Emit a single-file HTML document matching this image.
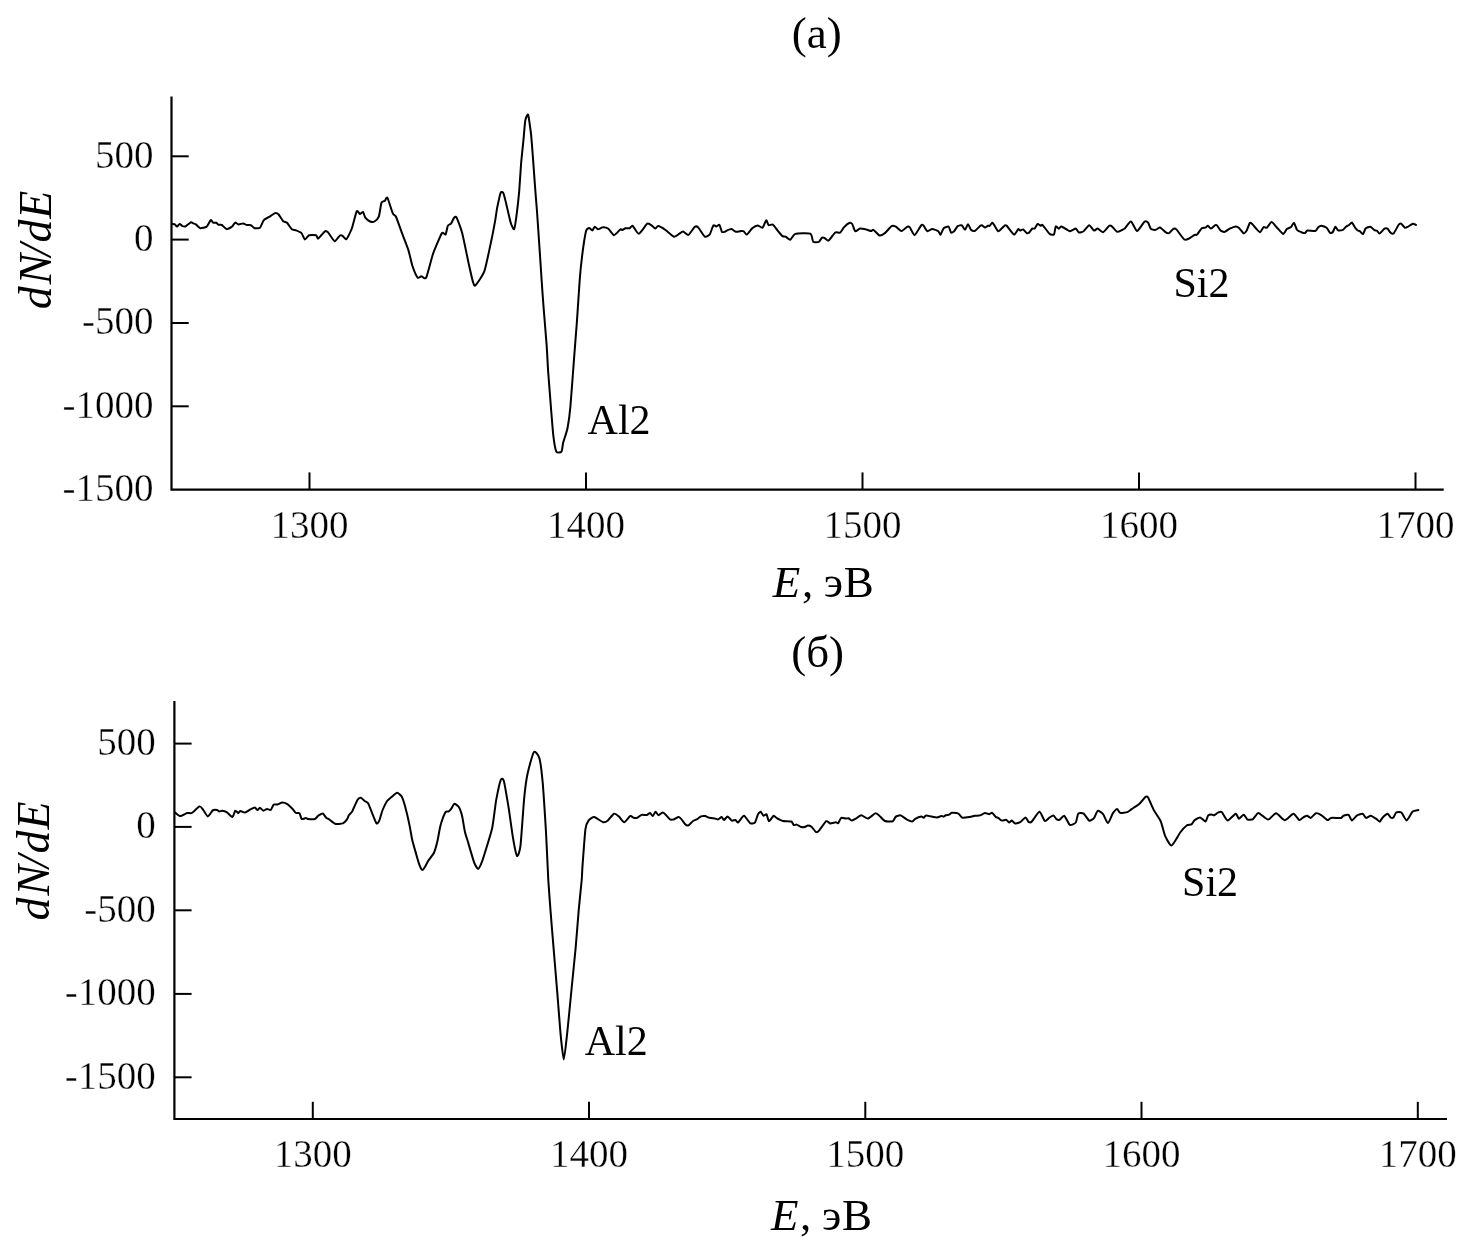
<!DOCTYPE html>
<html><head><meta charset="utf-8"><title>dN/dE spectra</title>
<style>
html,body{margin:0;padding:0;background:#fff;}
svg{display:block;will-change:transform;}
text{font-family:"Liberation Serif","Times New Roman",serif;fill:#000;}
.tk{stroke:#fff;stroke-width:0.35px;}
</style></head>
<body>
<svg width="1484" height="1250" viewBox="0 0 1484 1250">
<rect width="1484" height="1250" fill="#fff"/>
<path d="M171.5,96.4 L171.5,489.6 L1443.7,489.6" fill="none" stroke="#000" stroke-width="2.2" stroke-linejoin="miter" stroke-linecap="butt"/>
<line x1="171.5" y1="156.3" x2="188.7" y2="156.3" stroke="#000" stroke-width="2.0"/>
<line x1="171.5" y1="239.6" x2="188.7" y2="239.6" stroke="#000" stroke-width="2.0"/>
<line x1="171.5" y1="323" x2="188.7" y2="323" stroke="#000" stroke-width="2.0"/>
<line x1="171.5" y1="406.3" x2="188.7" y2="406.3" stroke="#000" stroke-width="2.0"/>
<line x1="309.5" y1="489.6" x2="309.5" y2="472.40000000000003" stroke="#000" stroke-width="2.0"/>
<line x1="586" y1="489.6" x2="586" y2="472.40000000000003" stroke="#000" stroke-width="2.0"/>
<line x1="862.5" y1="489.6" x2="862.5" y2="472.40000000000003" stroke="#000" stroke-width="2.0"/>
<line x1="1139" y1="489.6" x2="1139" y2="472.40000000000003" stroke="#000" stroke-width="2.0"/>
<line x1="1415.5" y1="489.6" x2="1415.5" y2="472.40000000000003" stroke="#000" stroke-width="2.0"/>
<text x="153.5" y="167.7" text-anchor="end" font-size="39" class="tk">500</text>
<text x="153.5" y="251.0" text-anchor="end" font-size="39" class="tk">0</text>
<text x="153.5" y="334.4" text-anchor="end" font-size="39" class="tk">-500</text>
<text x="153.5" y="417.7" text-anchor="end" font-size="39" class="tk">-1000</text>
<text x="153.5" y="501.0" text-anchor="end" font-size="39" class="tk">-1500</text>
<text x="309.5" y="538.4" text-anchor="middle" font-size="39" class="tk">1300</text>
<text x="586" y="538.4" text-anchor="middle" font-size="39" class="tk">1400</text>
<text x="862.5" y="538.4" text-anchor="middle" font-size="39" class="tk">1500</text>
<text x="1139" y="538.4" text-anchor="middle" font-size="39" class="tk">1600</text>
<text x="1415.5" y="538.4" text-anchor="middle" font-size="39" class="tk">1700</text>
<text x="816.8" y="48.2" text-anchor="middle" font-size="45">(a)</text>
<text y="596.9" font-size="45"><tspan x="772.8" font-style="italic">E</tspan><tspan x="801.9">,</tspan><tspan x="823.7">э</tspan><tspan x="843.8">В</tspan></text>
<text transform="translate(50.5,0) rotate(-90)" y="0" font-size="46" font-style="italic"><tspan x="-309.2">d</tspan><tspan x="-284.4">N</tspan><tspan x="-256.6">/</tspan><tspan x="-242.4">d</tspan><tspan x="-218.7">E</tspan></text>
<text x="587.6" y="434" font-size="42">Al2</text>
<text x="1173.4" y="296.7" font-size="42">Si2</text>
<path d="M172.2,223.9 C172.5,224.0 174.4,224.1 174.9,224.4 C175.4,224.7 176.5,226.7 177.0,226.6 C177.5,226.5 179.2,224.0 179.7,223.9 C180.2,223.8 181.8,225.9 182.4,226.1 C183.0,226.3 184.7,226.7 185.6,226.3 C186.5,225.9 190.2,222.6 191.0,222.3 C191.8,222.0 192.7,223.2 193.2,223.4 C193.7,223.6 195.2,223.9 195.9,224.4 C196.6,224.9 199.1,228.0 200.2,228.2 C201.3,228.4 205.6,227.4 206.7,226.6 C207.8,225.8 210.2,220.5 210.8,220.1 C211.4,219.7 212.5,222.3 213.1,222.6 C213.7,222.9 215.9,222.6 216.4,222.8 C216.9,223.0 218.0,224.6 218.5,224.8 C219.0,225.0 221.0,224.6 221.8,225.0 C222.6,225.4 225.6,228.9 226.6,229.1 C227.6,229.3 231.1,227.2 232.0,226.6 C232.9,225.9 234.5,222.8 235.2,222.6 C235.8,222.4 237.7,224.3 238.5,224.4 C239.3,224.5 242.5,223.3 243.3,223.4 C244.1,223.5 245.8,224.8 246.6,225.0 C247.4,225.2 250.1,224.9 250.9,225.2 C251.7,225.5 253.7,227.9 254.6,228.2 C255.5,228.4 259.1,228.5 260.0,227.7 C260.9,226.9 262.9,221.2 263.8,220.1 C264.7,219.0 268.1,217.6 269.2,216.9 C270.3,216.2 274.2,213.4 275.1,213.1 C276.0,212.8 277.6,213.4 278.4,214.2 C279.2,215.0 282.3,220.3 283.2,221.2 C284.1,222.1 286.1,222.0 287.0,222.8 C287.9,223.6 290.9,228.5 291.8,229.3 C292.7,230.1 295.1,230.0 296.1,230.4 C297.1,230.8 300.6,232.2 301.5,233.1 C302.4,234.0 304.0,239.3 304.8,239.5 C305.6,239.7 308.0,235.6 309.1,235.2 C310.2,234.8 315.2,234.9 316.1,235.2 C317.0,235.5 317.3,238.9 318.2,238.5 C319.1,238.1 323.9,232.2 324.7,231.5 C325.5,230.8 325.6,231.1 325.9,231.2 C326.2,231.3 327.2,231.3 328.1,232.3 C329.0,233.3 333.4,240.9 334.6,241.2 C335.8,241.5 339.1,236.0 339.9,235.5 C340.7,235.0 342.0,235.4 342.6,235.8 C343.2,236.2 345.5,239.8 346.4,239.1 C347.3,238.4 350.8,231.3 351.8,228.5 C352.8,225.7 355.9,212.8 356.7,211.3 C357.5,209.9 359.3,213.9 359.9,214.0 C360.5,214.1 362.6,211.6 363.1,212.0 C363.6,212.4 364.6,216.8 365.3,217.7 C366.0,218.6 369.2,221.1 370.1,221.5 C371.0,221.9 373.5,222.0 374.4,221.5 C375.3,221.0 378.1,218.6 378.8,216.7 C379.5,214.8 380.9,204.2 381.5,202.6 C382.1,201.0 384.1,201.5 384.7,201.0 C385.3,200.5 386.6,196.6 387.4,197.8 C388.2,199.0 391.9,211.5 392.8,213.4 C393.7,215.3 395.1,214.8 396.0,216.7 C396.9,218.6 400.7,229.5 401.9,232.8 C403.1,236.1 407.4,246.9 408.4,250.1 C409.4,253.3 411.3,262.4 412.2,265.2 C413.1,267.9 416.7,276.5 417.6,277.6 C418.5,278.7 420.4,276.2 421.3,276.2 C422.2,276.2 425.0,279.9 426.2,277.6 C427.4,275.3 431.6,257.7 433.2,253.3 C434.8,248.9 440.6,235.3 441.8,233.4 C443.0,231.5 445.0,235.2 445.6,234.4 C446.2,233.6 447.3,226.9 447.8,225.8 C448.3,224.7 450.4,224.4 451.0,223.7 C451.6,222.9 453.2,219.0 453.7,218.3 C454.2,217.7 455.5,215.7 456.4,217.2 C457.3,218.7 461.1,228.7 462.3,233.4 C463.5,238.1 467.7,259.2 468.8,264.1 C469.9,269.0 472.4,280.3 473.1,282.4 C473.8,284.5 474.4,286.4 475.5,285.3 C476.6,284.2 482.8,275.8 484.4,271.2 C486.0,266.6 490.5,244.2 491.6,239.2 C492.7,234.2 494.4,224.8 495.0,221.6 C495.6,218.4 496.6,210.5 497.2,207.6 C497.8,204.7 500.0,194.2 500.6,192.8 C501.2,191.4 502.8,192.1 503.4,193.2 C504.0,194.3 505.5,200.8 506.2,203.7 C506.9,206.6 509.9,220.1 510.7,222.7 C511.5,225.2 513.5,229.8 514.1,229.2 C514.7,228.6 515.8,220.8 516.3,217.1 C516.8,213.4 518.6,198.0 519.1,192.4 C519.6,186.8 520.8,166.5 521.3,161.1 C521.8,155.7 523.2,142.7 523.6,138.6 C524.0,134.5 524.8,122.9 525.3,120.5 C525.8,118.1 527.5,113.5 528.1,114.8 C528.7,116.0 530.4,129.2 530.9,133.0 C531.4,136.8 532.2,148.1 532.6,153.2 C533.0,158.2 534.4,177.7 534.8,183.5 C535.2,189.3 536.5,205.3 537.0,211.5 C537.5,217.7 538.8,238.2 539.3,245.1 C539.8,251.9 541.2,273.6 541.6,280.0 C542.0,286.4 543.2,302.3 543.7,308.8 C544.2,315.3 546.1,338.2 546.6,344.7 C547.1,351.2 547.8,367.0 548.3,373.5 C548.8,380.0 550.6,403.3 551.1,409.5 C551.6,415.7 552.8,431.2 553.3,435.4 C553.8,439.6 555.5,450.0 556.3,451.6 C557.1,453.2 560.8,452.5 561.5,451.6 C562.2,450.7 562.6,444.9 563.2,442.6 C563.8,440.3 566.8,431.8 567.5,428.2 C568.2,424.6 569.8,413.5 570.4,406.6 C571.0,399.7 573.4,367.4 574.0,359.1 C574.6,350.8 576.2,331.1 576.8,323.2 C577.4,315.3 579.2,286.6 579.7,280.0 C580.2,273.4 581.4,261.7 582.0,256.8 C582.6,251.9 585.3,234.1 586.0,231.2 C586.7,228.3 588.6,228.1 589.2,228.0 C589.8,227.9 591.8,230.5 592.4,230.4 C593.0,230.3 594.2,226.8 594.8,226.7 C595.4,226.6 597.2,229.2 598.0,229.3 C598.8,229.4 601.8,227.2 602.8,227.2 C603.8,227.1 607.3,228.0 608.4,228.8 C609.5,229.6 612.8,235.1 614.0,235.2 C615.2,235.2 619.6,229.8 620.4,229.3 C621.2,228.8 621.9,230.1 622.4,230.0 C622.9,229.9 624.8,228.4 625.5,228.2 C626.2,228.0 629.0,228.4 629.7,228.2 C630.4,228.0 631.8,225.2 632.7,225.8 C633.6,226.4 637.3,233.9 638.8,233.7 C640.3,233.5 646.0,224.5 647.3,223.7 C648.6,222.9 651.3,225.3 652.1,225.8 C652.9,226.3 654.6,228.6 655.2,228.6 C655.8,228.6 657.2,226.0 658.2,226.1 C659.2,226.2 663.9,228.9 665.5,230.0 C667.1,231.1 672.6,236.3 674.0,236.7 C675.4,237.1 678.5,234.2 679.4,233.7 C680.3,233.2 682.2,231.4 683.1,231.5 C684.0,231.6 687.4,235.3 688.5,234.9 C689.6,234.5 693.6,227.8 694.6,227.0 C695.6,226.2 697.2,226.4 698.2,227.4 C699.2,228.4 703.7,236.0 704.9,236.7 C706.1,237.4 708.9,235.4 709.8,234.3 C710.6,233.2 712.7,226.2 713.4,225.4 C714.1,224.6 715.8,226.5 716.4,226.4 C717.0,226.3 719.0,224.4 719.5,224.9 C720.0,225.4 721.4,231.1 721.9,231.8 C722.4,232.5 724.4,231.9 724.9,231.8 C725.4,231.7 726.0,230.9 726.7,230.6 C727.4,230.3 730.7,229.0 731.6,229.1 C732.5,229.2 734.8,231.6 735.8,231.8 C736.8,232.0 740.5,231.1 741.3,231.0 C742.1,230.9 743.2,230.8 743.7,231.2 C744.2,231.6 745.9,234.9 746.8,234.6 C747.6,234.3 751.1,229.1 752.2,228.2 C753.3,227.3 756.7,225.4 757.7,225.4 C758.7,225.4 761.6,228.3 762.5,227.8 C763.4,227.3 765.6,220.6 766.2,220.3 C766.8,220.0 767.9,224.8 768.6,225.2 C769.3,225.6 771.9,224.1 772.8,224.6 C773.7,225.1 776.7,229.4 777.7,230.6 C778.7,231.8 781.7,235.5 782.5,236.1 C783.3,236.7 784.8,236.3 785.6,236.7 C786.4,237.1 789.4,240.0 790.4,239.7 C791.4,239.4 793.3,234.5 795.3,233.9 C797.3,233.3 808.5,232.9 810.3,233.7 C812.1,234.5 812.4,241.1 813.3,241.9 C814.1,242.7 817.9,242.3 818.8,241.9 C819.6,241.5 821.2,238.3 821.8,237.9 C822.3,237.5 823.6,237.6 824.3,237.9 C825.0,238.2 827.4,241.2 828.5,240.7 C829.6,240.2 834.1,233.3 835.2,232.5 C836.4,231.7 839.1,233.2 840.0,232.7 C840.9,232.2 842.8,228.6 843.7,227.6 C844.6,226.6 848.2,223.4 849.1,223.0 C850.0,222.6 851.6,223.2 852.2,224.0 C852.8,224.8 854.4,230.7 855.2,231.2 C856.0,231.7 858.9,228.8 860.0,228.6 C861.1,228.4 865.0,229.2 866.1,229.4 C867.2,229.6 870.3,231.0 871.0,231.0 C871.7,231.0 872.5,229.4 873.4,229.8 C874.2,230.2 878.4,235.2 879.5,235.5 C880.6,235.8 883.7,234.0 884.9,233.1 C886.1,232.2 890.5,226.8 891.6,226.1 C892.7,225.4 894.8,226.1 895.8,226.6 C896.8,227.1 900.1,231.0 901.3,231.0 C902.5,231.0 906.5,227.0 907.4,226.6 C908.2,226.2 909.1,226.6 909.8,227.4 C910.5,228.2 913.5,235.1 914.6,234.9 C915.8,234.7 920.4,226.1 921.3,225.2 C922.2,224.3 923.1,225.2 923.7,225.8 C924.3,226.4 926.5,230.9 927.4,231.2 C928.2,231.5 931.1,229.1 932.2,229.1 C933.3,229.1 937.5,230.6 938.3,231.2 C939.1,231.8 940.0,234.9 940.5,234.6 C941.0,234.3 942.9,229.0 943.7,228.2 C944.5,227.4 947.9,226.2 948.6,226.6 C949.3,227.0 950.5,232.0 951.0,232.5 C951.5,233.0 953.4,231.8 954.1,231.2 C954.8,230.6 956.9,226.7 957.7,226.1 C958.5,225.5 961.2,225.0 961.9,225.4 C962.6,225.8 964.4,229.9 965.0,229.8 C965.6,229.7 967.4,224.2 968.0,224.2 C968.6,224.2 970.3,229.1 971.0,229.8 C971.7,230.5 973.8,231.4 974.7,231.0 C975.6,230.6 979.3,226.7 980.0,226.1 C980.7,225.5 981.3,225.1 981.8,225.2 C982.3,225.3 984.3,227.3 984.9,227.4 C985.5,227.5 987.4,226.0 987.9,225.8 C988.4,225.6 989.2,226.1 989.7,225.8 C990.2,225.5 991.9,222.3 992.7,222.8 C993.6,223.3 997.0,230.9 998.2,231.2 C999.4,231.5 1004.0,225.9 1004.9,225.4 C1005.8,224.9 1005.8,224.9 1006.7,225.8 C1007.6,226.7 1012.9,234.3 1014.0,234.6 C1015.1,234.9 1017.6,229.5 1018.2,229.1 C1018.8,228.7 1019.5,230.6 1020.0,230.6 C1020.5,230.6 1022.4,229.2 1023.1,229.4 C1023.8,229.7 1026.1,232.8 1026.7,233.1 C1027.3,233.4 1028.5,233.1 1029.1,232.7 C1029.6,232.2 1031.7,229.0 1032.2,228.6 C1032.8,228.2 1034.1,229.1 1034.6,228.6 C1035.1,228.1 1037.0,224.3 1037.6,224.0 C1038.2,223.7 1040.1,225.7 1040.6,225.8 C1041.1,225.9 1041.6,224.1 1042.5,224.9 C1043.4,225.7 1048.5,233.0 1049.7,233.9 C1050.9,234.8 1053.4,235.1 1054.0,234.3 C1054.6,233.6 1055.3,227.0 1055.8,226.4 C1056.3,225.8 1058.2,228.8 1058.8,228.8 C1059.3,228.8 1060.2,226.2 1061.3,226.4 C1062.4,226.6 1068.3,231.0 1069.8,231.2 C1071.2,231.4 1074.9,228.5 1075.8,228.6 C1076.7,228.7 1078.1,232.2 1078.9,232.5 C1079.7,232.8 1082.7,231.9 1083.7,231.2 C1084.7,230.5 1088.2,225.3 1089.2,225.2 C1090.2,225.1 1093.2,230.3 1094.0,230.6 C1094.8,230.9 1096.8,228.4 1097.7,228.6 C1098.6,228.8 1101.9,232.5 1103.1,232.2 C1104.2,231.9 1108.4,226.4 1109.2,225.8 C1110.0,225.2 1110.8,225.5 1111.6,226.1 C1112.4,226.7 1116.1,231.4 1117.1,231.8 C1118.1,232.2 1121.1,230.4 1121.9,230.0 C1122.7,229.6 1124.1,229.0 1125.0,228.2 C1125.9,227.3 1129.8,221.2 1131.0,221.5 C1132.2,221.8 1135.8,231.0 1137.1,231.0 C1138.4,231.0 1143.3,222.7 1144.4,221.8 C1145.5,221.0 1147.3,221.8 1148.0,222.5 C1148.7,223.2 1150.2,228.4 1151.0,229.1 C1151.8,229.8 1155.0,230.0 1155.9,229.8 C1156.8,229.7 1159.0,227.4 1160.0,227.6 C1161.0,227.8 1164.6,231.6 1165.5,232.2 C1166.4,232.8 1168.3,233.4 1169.1,233.1 C1169.9,232.8 1172.6,229.2 1173.3,228.8 C1174.0,228.4 1175.3,228.3 1176.4,229.4 C1177.5,230.5 1183.0,238.6 1184.3,239.5 C1185.6,240.4 1188.1,239.0 1189.1,238.5 C1190.1,238.0 1193.8,235.3 1194.6,234.9 C1195.4,234.5 1196.3,235.3 1197.0,234.6 C1197.7,233.9 1201.0,228.9 1201.8,228.2 C1202.6,227.5 1204.9,227.8 1205.5,227.6 C1206.1,227.4 1207.4,225.7 1207.9,225.8 C1208.4,225.9 1210.2,228.7 1210.9,228.6 C1211.6,228.5 1214.6,225.5 1215.2,225.2 C1215.8,224.9 1216.5,224.9 1217.0,225.4 C1217.5,225.9 1219.9,230.0 1220.7,230.6 C1221.5,231.2 1224.0,232.0 1224.9,231.8 C1225.8,231.6 1228.6,229.1 1229.7,228.6 C1230.8,228.1 1234.9,226.5 1235.8,226.4 C1236.7,226.3 1238.0,227.1 1238.8,227.8 C1239.6,228.5 1242.9,233.1 1243.7,233.4 C1244.5,233.7 1246.1,231.6 1246.7,230.6 C1247.3,229.6 1249.2,223.7 1249.8,223.0 C1250.3,222.3 1251.6,223.5 1252.2,224.0 C1252.8,224.5 1255.0,227.4 1255.8,228.2 C1256.6,229.0 1259.3,232.3 1260.1,232.2 C1260.9,232.1 1263.0,227.4 1263.7,227.0 C1264.4,226.6 1265.9,228.3 1266.7,227.8 C1267.5,227.3 1270.6,222.2 1271.6,222.1 C1272.6,222.0 1275.2,225.8 1276.4,227.0 C1277.6,228.2 1282.1,233.7 1283.1,233.9 C1284.1,234.1 1286.0,229.8 1286.8,229.1 C1287.6,228.4 1290.3,227.6 1291.0,227.0 C1291.7,226.4 1293.4,222.5 1294.0,222.8 C1294.6,223.1 1296.4,229.1 1297.1,230.0 C1297.8,230.9 1300.5,231.9 1301.3,232.2 C1302.1,232.5 1304.4,233.3 1305.0,233.1 C1305.6,232.9 1306.4,230.8 1307.4,230.6 C1308.4,230.4 1314.2,231.3 1315.3,231.0 C1316.4,230.7 1317.7,227.7 1318.3,227.2 C1318.9,226.7 1320.6,225.6 1321.4,225.7 C1322.2,225.8 1325.7,227.1 1326.6,227.8 C1327.5,228.5 1329.5,232.5 1330.1,232.9 C1330.7,233.3 1332.3,232.6 1332.8,232.0 C1333.3,231.4 1334.9,227.0 1335.4,226.8 C1335.9,226.6 1337.2,230.0 1338.0,230.3 C1338.8,230.6 1342.1,230.2 1342.9,229.9 C1343.7,229.6 1345.3,227.3 1345.9,226.8 C1346.5,226.3 1348.4,225.4 1349.0,225.0 C1349.6,224.6 1351.4,222.3 1352.0,222.6 C1352.6,222.9 1354.5,226.9 1355.1,227.7 C1355.7,228.5 1357.2,230.2 1357.7,230.5 C1358.2,230.8 1359.4,230.8 1359.9,231.2 C1360.4,231.6 1362.4,234.5 1363.0,234.2 C1363.6,233.9 1364.9,229.2 1365.6,228.5 C1366.3,227.8 1369.5,226.6 1370.4,226.8 C1371.3,227.0 1373.7,229.7 1374.4,230.1 C1375.1,230.5 1376.5,230.3 1377.0,230.7 C1377.5,231.0 1378.8,233.8 1379.6,233.6 C1380.3,233.4 1383.7,229.2 1384.5,228.7 C1385.3,228.2 1386.9,228.3 1387.5,228.7 C1388.1,229.1 1390.0,232.3 1390.6,232.8 C1391.2,233.3 1392.9,234.2 1393.7,233.4 C1394.5,232.6 1397.8,226.0 1398.5,225.0 C1399.2,224.0 1400.4,223.4 1401.1,223.7 C1401.8,224.0 1404.3,227.5 1405.0,227.8 C1405.7,228.1 1407.3,227.0 1408.1,226.6 C1408.9,226.2 1412.1,223.9 1412.9,223.7 C1413.7,223.5 1415.7,224.9 1416.0,225.0" fill="none" stroke="#000" stroke-width="2.0" stroke-linejoin="round" stroke-linecap="round"/>
<path d="M174.4,701.1 L174.4,1119.0 L1447,1119.0" fill="none" stroke="#000" stroke-width="2.2" stroke-linejoin="miter" stroke-linecap="butt"/>
<line x1="174.4" y1="743.6" x2="191.6" y2="743.6" stroke="#000" stroke-width="2.0"/>
<line x1="174.4" y1="826.9" x2="191.6" y2="826.9" stroke="#000" stroke-width="2.0"/>
<line x1="174.4" y1="910.3" x2="191.6" y2="910.3" stroke="#000" stroke-width="2.0"/>
<line x1="174.4" y1="993.9" x2="191.6" y2="993.9" stroke="#000" stroke-width="2.0"/>
<line x1="174.4" y1="1077.3" x2="191.6" y2="1077.3" stroke="#000" stroke-width="2.0"/>
<line x1="312.8" y1="1119.0" x2="312.8" y2="1101.8" stroke="#000" stroke-width="2.0"/>
<line x1="589" y1="1119.0" x2="589" y2="1101.8" stroke="#000" stroke-width="2.0"/>
<line x1="865.3" y1="1119.0" x2="865.3" y2="1101.8" stroke="#000" stroke-width="2.0"/>
<line x1="1141.5" y1="1119.0" x2="1141.5" y2="1101.8" stroke="#000" stroke-width="2.0"/>
<line x1="1417.8" y1="1119.0" x2="1417.8" y2="1101.8" stroke="#000" stroke-width="2.0"/>
<text x="155.8" y="755.0" text-anchor="end" font-size="39" class="tk">500</text>
<text x="155.8" y="838.3" text-anchor="end" font-size="39" class="tk">0</text>
<text x="155.8" y="921.7" text-anchor="end" font-size="39" class="tk">-500</text>
<text x="155.8" y="1005.3" text-anchor="end" font-size="39" class="tk">-1000</text>
<text x="155.8" y="1088.7" text-anchor="end" font-size="39" class="tk">-1500</text>
<text x="312.8" y="1166.8" text-anchor="middle" font-size="39" class="tk">1300</text>
<text x="589" y="1166.8" text-anchor="middle" font-size="39" class="tk">1400</text>
<text x="865.3" y="1166.8" text-anchor="middle" font-size="39" class="tk">1500</text>
<text x="1141.5" y="1166.8" text-anchor="middle" font-size="39" class="tk">1600</text>
<text x="1417.8" y="1166.8" text-anchor="middle" font-size="39" class="tk">1700</text>
<text x="817.6" y="667" text-anchor="middle" font-size="45">(б)</text>
<text y="1230.3" font-size="45"><tspan x="771.0" font-style="italic">E</tspan><tspan x="800.1">,</tspan><tspan x="821.9">э</tspan><tspan x="842.0">В</tspan></text>
<text transform="translate(49.2,0) rotate(-90)" y="0" font-size="46" font-style="italic"><tspan x="-920.5">d</tspan><tspan x="-895.7">N</tspan><tspan x="-867.9">/</tspan><tspan x="-853.5">d</tspan><tspan x="-829.4">E</tspan></text>
<text x="584.7" y="1054.8" font-size="42">Al2</text>
<text x="1182.1" y="896" font-size="42">Si2</text>
<path d="M175.2,812.6 C175.7,813.0 179.1,816.1 180.3,816.1 C181.5,816.1 186.0,813.3 187.2,813.0 C188.3,812.7 190.6,813.7 191.8,813.0 C193.0,812.3 198.5,806.7 199.6,806.4 C200.7,806.1 202.4,808.9 203.2,809.9 C204.0,810.9 206.8,816.4 207.8,816.4 C208.8,816.4 212.1,810.8 213.0,810.1 C213.9,809.5 216.4,809.8 217.0,809.9 C217.6,810.0 218.8,811.4 219.3,811.5 C219.8,811.6 221.4,810.6 222.1,810.7 C222.8,810.8 225.7,811.6 226.7,812.2 C227.7,812.8 231.5,817.1 232.4,817.0 C233.3,816.9 234.7,811.1 235.3,810.7 C235.9,810.3 237.7,813.0 238.2,813.0 C238.7,813.0 239.8,811.0 240.5,811.0 C241.2,811.0 244.0,812.8 245.0,812.6 C246.0,812.5 249.2,810.0 250.2,809.5 C251.2,809.0 254.1,807.5 254.8,807.6 C255.5,807.7 257.1,810.1 257.6,810.1 C258.1,810.1 259.3,807.7 259.9,807.8 C260.5,807.9 262.7,810.6 263.4,810.7 C264.1,810.8 266.1,809.1 266.8,809.0 C267.5,808.9 270.1,810.3 270.8,809.9 C271.5,809.5 273.0,805.1 273.7,804.6 C274.4,804.1 276.8,804.6 277.7,804.4 C278.6,804.2 281.3,802.6 282.3,802.6 C283.3,802.6 286.4,803.5 287.4,804.1 C288.4,804.7 291.7,808.1 292.6,809.0 C293.5,809.9 295.3,812.6 296.0,813.0 C296.7,813.4 298.9,812.7 299.5,813.3 C300.1,813.9 301.1,818.5 301.7,819.0 C302.3,819.5 305.2,818.1 305.8,818.1 C306.4,818.1 307.1,818.9 308.0,819.0 C308.9,819.1 313.9,819.3 314.9,819.0 C315.9,818.7 317.6,816.1 318.4,815.6 C319.2,815.1 322.1,813.2 322.9,813.5 C323.7,813.8 325.8,817.6 326.4,818.1 C327.0,818.6 327.8,818.4 328.7,819.0 C329.6,819.6 333.6,823.4 335.0,823.8 C336.4,824.2 341.7,823.8 342.9,823.4 C344.1,823.0 346.2,820.5 346.8,819.7 C347.4,818.9 348.4,815.9 349.0,815.0 C349.6,814.1 351.6,812.6 352.4,811.1 C353.2,809.6 356.6,801.2 357.4,799.9 C358.2,798.6 360.1,797.6 360.8,797.7 C361.5,797.8 364.0,800.4 364.7,801.0 C365.4,801.6 367.4,802.1 368.1,803.3 C368.8,804.5 371.2,810.8 372.0,812.8 C372.8,814.8 375.8,822.6 376.5,823.4 C377.2,824.2 378.7,821.9 379.3,820.6 C379.9,819.3 381.8,812.0 382.6,810.0 C383.4,808.0 386.2,802.3 387.1,801.0 C388.0,799.7 390.6,797.7 391.6,796.9 C392.6,796.1 396.2,792.8 397.2,792.8 C398.2,792.8 400.9,795.2 401.7,796.5 C402.5,797.8 404.2,803.2 405.0,806.1 C405.8,809.0 408.8,821.7 409.5,825.1 C410.2,828.5 411.6,837.3 412.3,840.2 C413.0,843.1 415.5,851.7 416.2,854.2 C416.9,856.7 419.0,863.8 419.6,865.4 C420.2,867.0 421.8,869.8 422.4,869.9 C423.0,870.0 424.6,867.5 425.2,866.5 C425.8,865.5 427.6,861.8 428.5,860.4 C429.4,859.0 433.2,854.5 434.1,852.5 C435.0,850.5 436.9,843.4 437.5,840.8 C438.1,838.2 439.7,828.6 440.3,826.2 C440.9,823.9 442.5,818.8 443.1,817.3 C443.7,815.8 445.3,812.3 445.9,811.7 C446.5,811.1 448.1,811.7 448.7,811.4 C449.3,811.1 450.9,809.1 451.5,808.3 C452.1,807.5 453.6,803.9 454.3,803.8 C455.0,803.7 458.0,805.8 458.8,807.0 C459.6,808.2 461.5,813.6 462.1,816.1 C462.7,818.6 464.3,829.1 464.9,831.8 C465.5,834.5 467.4,839.9 468.3,843.0 C469.2,846.1 473.4,860.6 474.4,863.2 C475.4,865.8 477.6,869.0 478.4,868.8 C479.2,868.6 481.6,862.7 482.3,860.9 C483.0,859.1 484.4,854.4 485.4,851.1 C486.4,847.8 491.1,833.2 492.2,828.0 C493.3,822.8 495.4,804.2 496.3,799.4 C497.2,794.6 500.0,781.6 500.8,779.8 C501.6,778.0 503.1,778.4 503.9,781.2 C504.7,784.0 507.7,802.1 508.6,807.6 C509.5,813.1 511.9,831.3 512.7,836.1 C513.5,840.9 516.2,854.9 517.0,855.9 C517.8,856.9 519.8,851.4 520.5,845.6 C521.2,839.8 523.5,805.2 524.2,798.0 C524.9,790.8 526.6,778.1 527.6,773.5 C528.6,768.9 532.7,753.5 533.9,752.0 C535.1,750.5 538.5,755.2 539.4,758.2 C540.3,761.2 541.9,774.3 542.6,781.7 C543.3,789.1 545.4,822.2 546.0,832.0 C546.6,841.8 547.8,872.2 548.3,880.0 C548.8,887.8 550.0,903.6 550.5,910.4 C551.0,917.2 552.9,940.0 553.6,948.4 C554.3,956.8 556.7,985.7 557.4,994.1 C558.1,1002.5 559.8,1025.6 560.4,1032.1 C561.0,1038.6 563.1,1059.5 563.8,1059.5 C564.5,1059.5 566.5,1039.4 567.3,1032.1 C568.1,1024.8 571.0,994.9 571.8,986.5 C572.6,978.1 574.9,956.0 575.6,948.4 C576.3,940.8 578.1,917.2 578.7,910.4 C579.3,903.6 581.3,884.4 581.7,880.0 C582.1,875.6 582.1,871.2 582.5,866.1 C582.9,861.0 584.8,833.9 585.4,829.3 C586.0,824.7 587.9,821.3 588.8,820.1 C589.7,818.9 592.9,816.9 594.3,817.1 C595.7,817.3 601.7,821.9 603.1,822.2 C604.5,822.5 606.8,821.4 607.9,820.5 C609.0,819.6 612.9,814.1 614.0,813.7 C615.1,813.3 617.8,815.5 618.8,816.4 C619.8,817.2 623.1,822.2 624.2,822.2 C625.4,822.2 629.3,816.4 630.3,816.0 C631.2,815.6 633.0,817.6 633.7,817.8 C634.4,818.0 636.5,818.1 637.3,817.8 C638.1,817.5 640.5,815.2 641.5,814.9 C642.5,814.6 646.1,815.1 647.0,814.9 C647.9,814.7 649.4,812.9 650.0,813.0 C650.6,813.1 652.2,816.2 652.8,816.1 C653.3,816.0 654.9,811.9 655.5,811.8 C656.1,811.7 657.8,815.1 658.5,815.2 C659.2,815.3 661.8,812.6 662.5,812.5 C663.2,812.4 664.5,813.5 665.2,814.2 C666.0,814.9 669.1,818.9 670.0,819.4 C670.9,819.9 672.9,819.6 673.7,819.4 C674.6,819.2 677.8,817.1 678.5,817.0 C679.2,816.9 680.2,817.9 680.9,818.6 C681.6,819.3 684.5,823.6 685.2,824.3 C685.9,825.0 687.4,825.8 688.2,825.5 C689.0,825.2 692.2,821.6 693.1,821.0 C694.0,820.4 696.5,819.6 697.3,819.1 C698.1,818.6 700.2,816.7 701.0,816.4 C701.8,816.1 704.4,816.0 705.2,816.1 C706.0,816.2 707.9,817.4 708.8,817.6 C709.6,817.8 712.8,818.0 713.7,818.2 C714.6,818.4 717.1,819.5 717.9,819.4 C718.7,819.3 721.0,816.9 721.6,817.0 C722.2,817.1 723.4,820.0 724.0,820.0 C724.6,820.0 726.8,816.5 727.6,816.6 C728.4,816.7 731.1,820.3 731.9,820.6 C732.7,820.9 734.9,819.8 735.5,820.0 C736.1,820.2 737.1,822.9 738.0,822.5 C738.9,822.1 742.8,815.7 744.0,815.8 C745.2,815.9 749.0,822.4 750.1,823.1 C751.2,823.8 754.1,823.6 754.9,822.7 C755.7,821.8 757.4,815.3 758.0,814.2 C758.6,813.1 760.3,811.6 760.8,811.8 C761.3,812.0 762.8,815.6 763.4,815.8 C764.0,816.0 766.0,813.7 766.5,814.2 C767.0,814.7 768.2,821.0 768.9,821.2 C769.6,821.4 772.9,816.1 773.7,815.8 C774.5,815.5 775.9,817.7 776.8,818.2 C777.7,818.7 781.3,820.7 782.8,821.0 C784.2,821.3 790.2,821.1 791.3,821.5 C792.4,821.9 793.2,824.8 793.8,825.1 C794.3,825.4 796.0,824.4 796.8,824.6 C797.6,824.8 800.7,826.9 801.6,827.1 C802.5,827.3 804.9,826.9 805.5,826.7 C806.1,826.5 807.3,825.5 807.9,825.5 C808.5,825.5 810.7,826.1 811.5,826.7 C812.3,827.3 815.1,831.5 815.8,831.9 C816.5,832.3 817.8,832.0 818.8,830.9 C819.8,829.8 825.0,822.0 826.1,821.2 C827.2,820.5 829.3,823.3 830.3,823.4 C831.3,823.5 835.0,822.2 835.8,822.2 C836.6,822.2 837.7,823.5 838.2,823.1 C838.7,822.7 840.4,818.2 841.2,817.8 C842.0,817.3 845.4,818.6 846.1,818.6 C846.8,818.6 848.0,818.0 848.5,818.2 C849.0,818.4 850.9,820.6 851.6,820.6 C852.3,820.6 854.8,819.1 855.8,818.6 C856.8,818.1 860.1,815.2 861.3,815.2 C862.5,815.2 866.5,818.8 867.9,818.6 C869.3,818.4 874.1,813.7 875.2,813.4 C876.3,813.1 877.8,814.4 878.8,815.2 C879.8,816.0 883.5,820.4 884.9,821.0 C886.3,821.6 891.7,821.6 892.8,821.2 C893.9,820.8 895.0,817.2 895.8,816.6 C896.6,816.0 899.6,815.1 900.7,815.4 C901.8,815.7 905.6,818.8 906.7,819.4 C907.9,820.0 911.4,821.6 912.2,821.5 C913.1,821.4 914.3,819.3 915.2,818.8 C916.1,818.3 920.4,816.7 921.3,816.6 C922.1,816.5 923.2,817.9 923.7,817.8 C924.2,817.7 925.2,815.5 926.2,815.4 C927.2,815.3 932.3,816.8 933.4,817.0 C934.5,817.2 936.3,817.5 937.1,817.4 C937.9,817.3 940.6,816.2 941.3,816.1 C942.0,816.0 943.3,816.7 943.7,816.6 C944.1,816.5 945.1,815.4 945.6,815.2 C946.1,815.0 948.6,814.8 949.2,814.6 C949.8,814.4 950.9,813.0 951.6,812.8 C952.3,812.6 955.8,812.9 956.5,813.0 C957.2,813.1 958.3,813.5 958.9,814.0 C959.5,814.5 961.4,817.5 962.5,817.8 C963.6,818.1 968.6,817.2 969.8,817.0 C971.0,816.8 973.7,816.0 974.7,815.8 C975.7,815.6 979.0,815.7 980.0,815.4 C981.0,815.1 984.0,813.1 984.9,813.0 C985.8,812.9 988.4,814.2 989.1,814.2 C989.8,814.2 991.4,812.5 992.1,812.8 C992.8,813.1 995.2,816.5 995.8,817.0 C996.4,817.5 997.6,817.4 998.2,817.8 C998.8,818.2 1001.0,820.4 1001.8,820.6 C1002.6,820.8 1005.4,819.6 1006.1,819.8 C1006.8,820.0 1008.5,822.4 1009.1,822.5 C1009.7,822.6 1011.2,820.5 1011.8,820.6 C1012.4,820.7 1014.3,823.3 1015.2,823.4 C1016.1,823.5 1019.6,822.4 1020.6,821.8 C1021.6,821.2 1024.7,817.4 1025.5,817.4 C1026.3,817.4 1027.9,821.4 1028.5,821.8 C1029.1,822.2 1030.5,822.8 1031.6,821.8 C1032.7,820.8 1038.1,811.9 1039.4,811.8 C1040.7,811.7 1043.9,820.4 1044.9,821.0 C1045.9,821.6 1048.2,818.4 1049.1,817.8 C1049.9,817.2 1052.7,815.3 1053.4,815.4 C1054.1,815.5 1055.8,818.7 1056.4,819.1 C1057.0,819.5 1058.7,820.1 1059.5,819.8 C1060.3,819.5 1063.3,815.3 1064.3,815.8 C1065.3,816.3 1068.6,824.2 1069.8,824.9 C1071.0,825.6 1075.0,823.6 1075.8,822.5 C1076.6,821.4 1077.5,814.6 1078.3,813.7 C1079.1,812.8 1082.6,813.0 1083.7,813.7 C1084.8,814.4 1088.2,820.1 1089.2,820.6 C1090.2,821.1 1093.2,819.2 1094.0,818.2 C1094.8,817.2 1096.8,811.3 1097.7,810.9 C1098.6,810.5 1102.1,813.0 1103.1,814.2 C1104.1,815.4 1107.0,823.2 1108.0,823.1 C1109.0,823.0 1111.9,814.8 1112.8,813.4 C1113.7,812.0 1116.4,809.0 1117.1,808.9 C1117.8,808.8 1119.1,812.5 1120.1,812.8 C1121.1,813.1 1126.2,812.5 1127.4,812.1 C1128.6,811.7 1130.4,809.9 1131.6,809.1 C1132.8,808.3 1137.5,805.5 1138.9,804.3 C1140.3,803.1 1144.7,797.5 1145.6,796.8 C1146.5,796.1 1147.3,796.4 1148.0,797.4 C1148.7,798.4 1151.6,805.3 1152.2,806.7 C1152.8,808.1 1153.4,809.5 1154.3,811.0 C1155.2,812.5 1159.7,819.0 1160.8,821.5 C1161.9,824.0 1164.0,833.4 1165.1,835.8 C1166.2,838.2 1170.1,845.8 1171.6,845.5 C1173.1,845.2 1178.7,834.5 1180.2,832.5 C1181.7,830.5 1185.6,826.3 1186.7,825.5 C1187.8,824.7 1190.7,824.9 1191.5,824.4 C1192.3,823.9 1193.8,820.8 1194.7,820.1 C1195.6,819.4 1199.0,817.3 1200.1,817.4 C1201.2,817.5 1204.7,821.7 1205.5,821.5 C1206.3,821.3 1207.6,816.0 1208.2,815.3 C1208.8,814.6 1210.9,814.4 1211.5,814.4 C1212.1,814.4 1213.6,815.5 1214.2,815.3 C1214.8,815.1 1217.2,812.9 1217.9,812.6 C1218.7,812.3 1220.7,811.2 1221.7,812.0 C1222.7,812.8 1226.2,820.3 1227.6,820.5 C1229.0,820.7 1234.6,813.9 1235.7,813.7 C1236.8,813.5 1238.1,818.6 1238.9,818.7 C1239.7,818.8 1242.9,814.6 1243.8,814.7 C1244.7,814.8 1246.7,819.2 1247.6,819.6 C1248.5,820.0 1251.9,819.8 1253.0,819.1 C1254.1,818.4 1256.9,812.9 1258.4,812.9 C1259.9,812.9 1266.3,819.6 1268.1,819.6 C1269.9,819.6 1274.4,813.2 1276.1,813.3 C1277.8,813.4 1283.1,820.2 1284.8,820.2 C1286.5,820.2 1292.0,813.7 1293.4,813.7 C1294.9,813.7 1298.3,819.7 1299.3,820.1 C1300.3,820.5 1302.5,817.7 1303.3,817.3 C1304.1,816.9 1306.3,815.6 1307.1,815.7 C1307.8,815.8 1309.9,818.1 1310.8,817.9 C1311.7,817.6 1315.0,813.5 1316.0,813.2 C1317.0,812.9 1320.1,814.4 1321.2,815.1 C1322.3,815.8 1326.4,819.8 1327.4,820.1 C1328.4,820.4 1329.7,818.1 1331.1,817.9 C1332.5,817.7 1339.8,818.1 1341.0,817.9 C1342.2,817.7 1342.6,816.0 1343.4,815.7 C1344.2,815.4 1347.8,814.4 1348.6,814.9 C1349.4,815.4 1351.1,820.4 1351.9,820.4 C1352.8,820.4 1356.0,816.1 1357.1,815.4 C1358.2,814.7 1361.8,813.5 1362.7,813.8 C1363.6,814.0 1365.2,817.7 1366.0,817.9 C1366.8,818.1 1369.8,815.6 1370.8,815.7 C1371.8,815.8 1375.5,818.3 1376.4,818.9 C1377.3,819.5 1379.1,821.8 1379.7,821.7 C1380.3,821.6 1381.7,818.5 1382.5,817.7 C1383.3,816.9 1386.9,813.8 1387.7,813.8 C1388.5,813.8 1390.0,817.1 1390.6,817.5 C1391.2,817.9 1392.8,818.0 1393.4,817.5 C1394.0,817.0 1395.4,813.0 1396.2,812.5 C1397.0,812.0 1400.4,811.7 1401.4,812.5 C1402.4,813.3 1405.5,820.5 1406.6,820.4 C1407.7,820.3 1411.5,812.6 1412.7,811.6 C1413.9,810.6 1417.8,810.2 1418.4,810.0" fill="none" stroke="#000" stroke-width="2.0" stroke-linejoin="round" stroke-linecap="round"/>
</svg>
</body></html>
